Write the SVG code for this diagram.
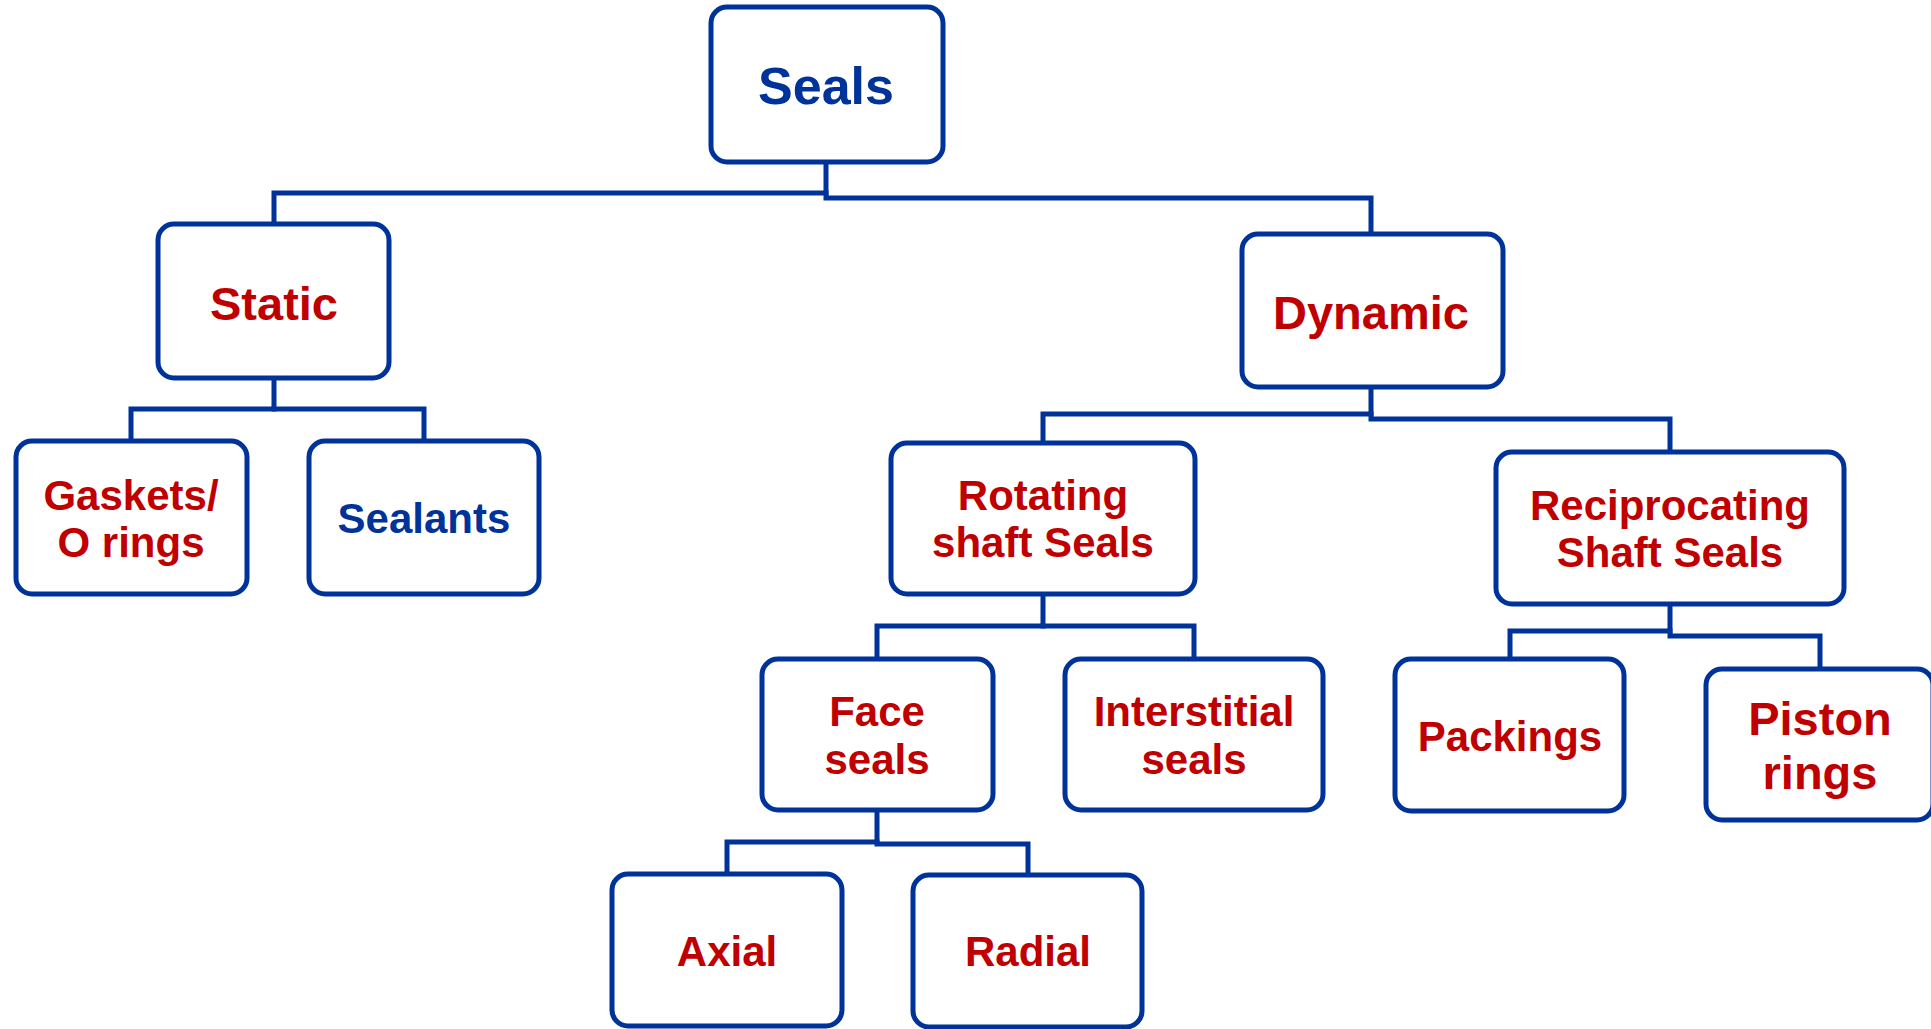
<svg xmlns="http://www.w3.org/2000/svg" width="1931" height="1029" viewBox="0 0 1931 1029">
<style>
.box{fill:#fff;stroke:#003399;stroke-width:5}
.con{fill:none;stroke:#003399;stroke-width:5;stroke-linejoin:miter;stroke-linecap:square}
text{font-family:"Liberation Sans",Arial,sans-serif;font-weight:bold;text-anchor:middle}
.r{fill:#C00000;font-size:42px}
.b{fill:#003399;font-size:42px}
.big{font-size:47px}
</style>
<rect width="1931" height="1029" fill="#fff"/>
<g id="connectors">
<polyline class="con" points="826,164 826,193 274,193 274,222"/>
<polyline class="con" points="826,193 826,198 1371,198 1371,232"/>
<polyline class="con" points="274,380 274,409 131,409 131,439"/>
<polyline class="con" points="274,409 424,409 424,439"/>
<polyline class="con" points="1371,389 1371,414 1043,414 1043,441"/>
<polyline class="con" points="1371,414 1371,419 1670,419 1670,450"/>
<polyline class="con" points="1043,596 1043,626 877,626 877,657"/>
<polyline class="con" points="1043,626 1194,626 1194,657"/>
<polyline class="con" points="1670,606 1670,631 1510,631 1510,657"/>
<polyline class="con" points="1670,631 1670,636 1820,636 1820,667"/>
<polyline class="con" points="877,812 877,842 727,842 727,872"/>
<polyline class="con" points="877,842 877,844 1028,844 1028,873"/>
</g>
<g id="seals"><rect class="box" x="711" y="7" width="232" height="155" rx="16"/><text class="b" x="826" y="104" style="font-size:52px">Seals</text></g>
<g id="static"><rect class="box" x="158" y="224" width="231" height="154" rx="16"/><text class="r big" x="274" y="320">Static</text></g>
<g id="dynamic"><rect class="box" x="1242" y="234" width="261" height="153" rx="16"/><text class="r big" x="1371" y="329">Dynamic</text></g>
<g id="gaskets"><rect class="box" x="16" y="441" width="231" height="153" rx="16"/><text class="r" x="131" y="510">Gaskets/</text><text class="r" x="131" y="557">O rings</text></g>
<g id="sealants"><rect class="box" x="309" y="441" width="230" height="153" rx="16"/><text class="b" x="424" y="533">Sealants</text></g>
<g id="rotating"><rect class="box" x="891" y="443" width="304" height="151" rx="16"/><text class="r" x="1043" y="510">Rotating</text><text class="r" x="1043" y="557">shaft Seals</text></g>
<g id="reciprocating"><rect class="box" x="1496" y="452" width="348" height="152" rx="16"/><text class="r" x="1670" y="520">Reciprocating</text><text class="r" x="1670" y="567">Shaft Seals</text></g>
<g id="face"><rect class="box" x="762" y="659" width="231" height="151" rx="16"/><text class="r" x="877" y="726">Face</text><text class="r" x="877" y="774">seals</text></g>
<g id="interstitial"><rect class="box" x="1065" y="659" width="258" height="151" rx="16"/><text class="r" x="1194" y="726">Interstitial</text><text class="r" x="1194" y="774">seals</text></g>
<g id="packings"><rect class="box" x="1395" y="659" width="229" height="152" rx="16"/><text class="r" x="1510" y="751">Packings</text></g>
<g id="piston"><rect class="box" x="1706" y="669" width="227" height="151" rx="16"/><text class="r big" x="1820" y="735">Piston</text><text class="r big" x="1820" y="789">rings</text></g>
<g id="axial"><rect class="box" x="612" y="874" width="230" height="152" rx="16"/><text class="r" x="727" y="966">Axial</text></g>
<g id="radial"><rect class="box" x="913" y="875" width="229" height="152" rx="16"/><text class="r" x="1028" y="966">Radial</text></g>
</svg>
